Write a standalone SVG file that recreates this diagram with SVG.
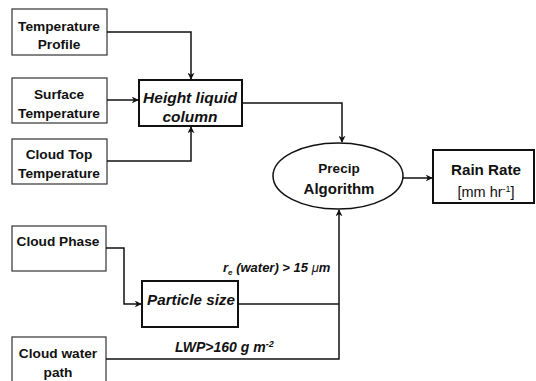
<svg xmlns="http://www.w3.org/2000/svg" width="536" height="381" viewBox="0 0 536 381">
<style>
.in{fill:#fff;stroke:#333;stroke-width:1.2}
.pr{fill:#fff;stroke:#111;stroke-width:2}
.t{font-family:"Liberation Sans",Arial,sans-serif;font-weight:bold;font-size:13.7px;fill:#111;text-anchor:middle}
.ti{font-family:"Liberation Sans",Arial,sans-serif;font-weight:bold;font-style:italic;fill:#111;text-anchor:middle}
.lb{font-family:"Liberation Sans",Arial,sans-serif;font-weight:bold;font-style:italic;fill:#111}
.c{fill:none;stroke:#111;stroke-width:1.5}
</style>
<defs>
<marker id="ah" viewBox="0 0 10 10" refX="9" refY="5" markerWidth="7" markerHeight="7" markerUnits="userSpaceOnUse" orient="auto">
<path d="M0,0 L10,5 L0,10 L3,5 Z" fill="#111"/>
</marker>
</defs>
<rect x="0" y="0" width="536" height="381" fill="#fff"/>
<g id="temp-profile"><rect class="in" x="12" y="9" width="95" height="46"/><text class="t" x="59" y="31">Temperature</text><text class="t" x="59" y="49">Profile</text></g>
<g id="surface-temp"><rect class="in" x="12" y="78" width="95" height="45"/><text class="t" x="59" y="99">Surface</text><text class="t" x="59" y="118">Temperature</text></g>
<g id="cloud-top-temp"><rect class="in" x="12" y="139" width="95" height="45"/><text class="t" x="59" y="159">Cloud Top</text><text class="t" x="59" y="178">Temperature</text></g>
<g id="height-liquid"><rect class="pr" x="139" y="80" width="103" height="46"/><text class="ti" style="font-size:15.5px" x="190" y="103">Height liquid</text><text class="ti" style="font-size:15.5px" x="190" y="122">column</text></g>
<g id="precip"><ellipse class="pr" cx="338" cy="176" rx="65" ry="33" style="stroke-width:1.5"/><text class="t" style="font-size:13.5px" x="339" y="173">Precip</text><text class="t" style="font-size:15px" x="339" y="194">Algorithm</text></g>
<g id="rain-rate"><rect class="pr" x="433" y="150" width="101" height="53"/><text class="t" style="font-size:15.2px" x="486" y="175">Rain Rate</text><text class="t" style="font-size:14.5px;font-weight:normal" x="486" y="197">[mm hr<tspan style="font-size:9px" dy="-5">-1</tspan><tspan dy="5">]</tspan></text></g>
<g id="cloud-phase"><rect class="in" x="12" y="226" width="94" height="45"/><text class="t" x="58" y="246">Cloud Phase</text></g>
<g id="particle-size"><rect class="pr" x="142" y="281" width="96" height="46"/><text class="ti" style="font-size:15.2px" x="191" y="305">Particle size</text></g>
<g id="cloud-water"><rect class="in" x="12" y="337" width="94" height="50"/><text class="t" x="58" y="358">Cloud water</text><text class="t" x="58" y="377">path</text></g>
<g id="connectors">
<path class="c" d="M107,32 H191 V79" marker-end="url(#ah)"/>
<path class="c" d="M107,100 H138" marker-end="url(#ah)"/>
<path class="c" d="M107,161 H191 V127" marker-end="url(#ah)"/>
<path class="c" d="M242,103 H342 V142" marker-end="url(#ah)"/>
<path class="c" d="M403,178 H432" marker-end="url(#ah)"/>
<path class="c" d="M106,248 H124 V304 H141" marker-end="url(#ah)"/>
<path class="c" d="M238,304 H339"/>
<path class="c" d="M106,359 H339 V210" marker-end="url(#ah)"/>
<text class="lb" style="font-size:13px" x="223" y="272">r<tspan style="font-size:8px" dy="3">e</tspan><tspan dy="-3"> (water) &gt; 15 </tspan><tspan style="font-weight:normal">μ</tspan>m</text>
<text class="lb" style="font-size:14px" x="175" y="352">LWP&gt;160 g m<tspan style="font-size:9px" dy="-5">-2</tspan></text>
</g>
</svg>
